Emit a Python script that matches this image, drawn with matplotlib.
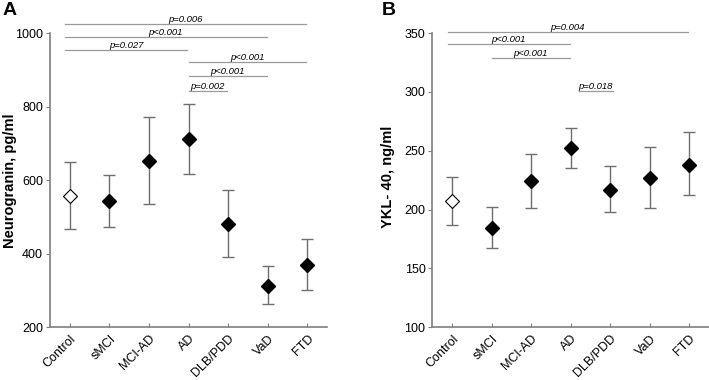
import matplotlib.pyplot as plt
import numpy as np

plt.rcParams['font.family'] = ['Liberation Sans', 'DejaVu Sans']

# --- DADOS ---
groups = ['Control', 'sMCI', 'MCI-AD', 'AD', 'DLB/PDD', 'VaD', 'FTD']

ng_mean = [557, 544, 653, 712, 481, 313, 370]
ng_low = [468, 473, 535, 618, 390, 262, 302]
ng_high = [649, 615, 773, 806, 573, 366, 440]

ykl_mean = [207, 184, 224, 252, 217, 227, 238]
ykl_low = [187, 167, 201, 235, 198, 201, 212]
ykl_high = [228, 202, 247, 269, 237, 253, 266]

# comparações: (grupo inicial, grupo final, altura, texto)
ng_pvals = [
    (1, 7, 1026, 'p=0.006'),
    (1, 6, 990, 'p<0.001'),
    (1, 4, 954, 'p=0.027'),
    (4, 7, 920, 'p<0.001'),
    (4, 6, 882, 'p<0.001'),
    (4, 5, 843, 'p=0.002'),
]
ykl_pvals = [
    (1, 7, 351, 'p=0.004'),
    (1, 4, 341, 'p<0.001'),
    (2, 4, 329, 'p<0.001'),
    (4.2, 5.1, 301, 'p=0.018'),
]

SPINE = '#7f7f7f'
BAR = '#6e6e6e'
LINE = '#9a9a9a'


def draw_panel(ax, means, lows, highs, pvals, ylim, yticks):
    x = np.arange(1, len(groups) + 1)
    means = np.array(means)
    err = [means - np.array(lows), np.array(highs) - means]
    ax.errorbar(x, means, yerr=err, fmt='none', ecolor=BAR, elinewidth=1,
                capsize=4.3, capthick=1, zorder=2)
    ax.plot(x[1:], means[1:], 'D', color='black', markersize=7.5, zorder=3)
    ax.plot(x[:1], means[:1], 'D', markerfacecolor='white', markeredgecolor='black',
            markeredgewidth=0.8, markersize=7.5, zorder=3)

    for a, b, h, txt in pvals:
        x0 = a - 0.12 if a == 1 else a
        x1 = b - 0.03
        ax.plot([x0, x1], [h, h], color=LINE, lw=0.9, clip_on=False)
        ax.text((x0 + x1) / 2, h, txt, ha='center', va='bottom', fontsize=6.8,
                style='italic', clip_on=False)

    ax.set_xlim(0.5, 7.5)
    ax.set_ylim(*ylim)
    ax.set_yticks(yticks)
    ax.set_xticks(x)
    ax.set_xticklabels(groups, rotation=45, ha='right', rotation_mode='anchor', fontsize=9)
    ax.tick_params(axis='y', direction='out', length=3, color=SPINE, labelsize=9, pad=2)
    ax.tick_params(axis='x', direction='in', length=3, color=SPINE, pad=4)
    for s in ['top', 'right']:
        ax.spines[s].set_visible(False)
    for s in ['left', 'bottom']:
        ax.spines[s].set_color(SPINE)
        ax.spines[s].set_linewidth(1.2)


fig = plt.figure(figsize=(7.09, 3.8), dpi=100)
axA = fig.add_axes([0.0705, 0.139, 0.391, 0.774])
axB = fig.add_axes([0.610, 0.139, 0.390, 0.774])

draw_panel(axA, ng_mean, ng_low, ng_high, ng_pvals, (200, 1000),
           [200, 400, 600, 800, 1000])
draw_panel(axB, ykl_mean, ykl_low, ykl_high, ykl_pvals, (100, 350),
           [100, 150, 200, 250, 300, 350])

# rótulos dos eixos e letras dos painéis
fig.text(10 / 709, 0.524, 'Neurogranin, pg/ml', rotation=90, ha='center', va='center',
         fontsize=10.5, fontweight='bold')
fig.text(388 / 709, 0.534, 'YKL- 40, ng/ml', rotation=90, ha='center', va='center',
         fontsize=10.5, fontweight='bold')
fig.text(3 / 709, 0.995, 'A', fontsize=14, fontweight='bold', ha='left', va='top')
fig.text(382 / 709, 0.995, 'B', fontsize=14, fontweight='bold', ha='left', va='top')

fig.savefig('out.png', dpi=100)
